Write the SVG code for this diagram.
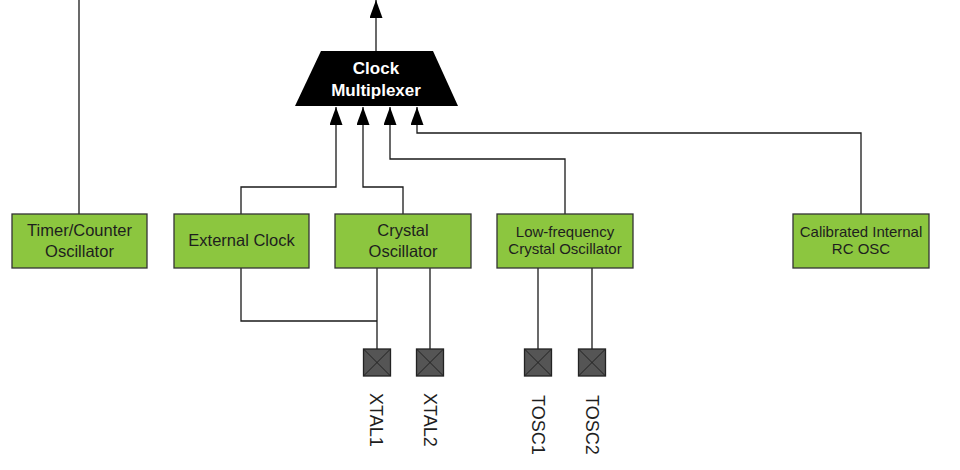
<svg xmlns="http://www.w3.org/2000/svg" width="960" height="470" viewBox="0 0 960 470">
<defs>
<style>
.box{fill:#8cc63f;stroke:#333;stroke-width:1.3}
.t{font-family:"Liberation Sans",Arial,sans-serif;fill:#1e1e1e;text-anchor:middle}
.big{font-size:16.5px}
.small{font-size:15px}
.wire{fill:none;stroke:#1a1a1a;stroke-width:1.3}
.pad{fill:#555;stroke:#222;stroke-width:1.3}
.padx{stroke:#222;stroke-width:1}
.pin{font-family:"Liberation Sans",Arial,sans-serif;font-size:18px;fill:#1e1e1e}
</style>
<marker id="ah" markerUnits="userSpaceOnUse" markerWidth="18" markerHeight="14" refX="18" refY="6.5" orient="auto">
<path d="M0,0 L18,6.5 L0,13 z" fill="#000"/>
</marker>
</defs>
<rect width="960" height="470" fill="#fff"/>

<g id="connectors">
<path class="wire" d="M376,51 L376,0" marker-end="url(#ah)"/>
<path class="wire" d="M79,214 L79,0"/>
<path class="wire" d="M861,214 L861,133 L417,133 L417,107" marker-end="url(#ah)"/>
<path class="wire" d="M565,214 L565,159 L390,159 L390,107" marker-end="url(#ah)"/>
<path class="wire" d="M403,214 L403,187 L363,187 L363,107" marker-end="url(#ah)"/>
<path class="wire" d="M241,214 L241,187 L336,187 L336,107" marker-end="url(#ah)"/>
<path class="wire" d="M241,268 L241,321 L377,321"/>
<path class="wire" d="M377,268 L377,349"/>
<path class="wire" d="M430,268 L430,349"/>
<path class="wire" d="M538,268 L538,349"/>
<path class="wire" d="M592,268 L592,349"/>
</g>

<g id="clock-multiplexer">
<path d="M321,51 L433,51 L458,106 L295,106 Z" fill="#000"/>
<text class="t" x="376" y="74" style="font-size:17px;font-weight:bold;fill:#fff">Clock</text>
<text class="t" x="376" y="96" style="font-size:17px;font-weight:bold;fill:#fff">Multiplexer</text>
</g>

<g id="timer-counter-oscillator">
<rect class="box" x="12" y="214" width="135" height="54"/>
<text class="t big" x="79.5" y="236">Timer/Counter</text>
<text class="t big" x="79.5" y="257">Oscillator</text>
</g>

<g id="external-clock">
<rect class="box" x="174" y="214" width="135" height="54"/>
<text class="t big" x="241.5" y="246">External Clock</text>
</g>

<g id="crystal-oscillator">
<rect class="box" x="335" y="214" width="136" height="54"/>
<text class="t big" x="403" y="236">Crystal</text>
<text class="t big" x="403" y="257">Oscillator</text>
</g>

<g id="low-frequency-crystal-oscillator">
<rect class="box" x="497" y="214" width="136" height="54"/>
<text class="t small" x="565" y="237">Low-frequency</text>
<text class="t small" x="565" y="254">Crystal Oscillator</text>
</g>

<g id="calibrated-internal-rc-osc">
<rect class="box" x="793" y="214" width="136" height="54"/>
<text class="t small" x="861" y="237">Calibrated Internal</text>
<text class="t small" x="861" y="254">RC OSC</text>
</g>

<g id="pad-xtal1">
<rect class="pad" x="363.5" y="349" width="27" height="27"/>
<path class="padx" d="M363.5,349 L390.5,376 M390.5,349 L363.5,376"/>
<text class="pin" transform="translate(370,393) rotate(90)">XTAL1</text>
</g>
<g id="pad-xtal2">
<rect class="pad" x="416.5" y="349" width="27" height="27"/>
<path class="padx" d="M416.5,349 L443.5,376 M443.5,349 L416.5,376"/>
<text class="pin" transform="translate(423.5,393) rotate(90)">XTAL2</text>
</g>
<g id="pad-tosc1">
<rect class="pad" x="524.5" y="349" width="27" height="27"/>
<path class="padx" d="M524.5,349 L551.5,376 M551.5,349 L524.5,376"/>
<text class="pin" transform="translate(531.5,395) rotate(90)">TOSC1</text>
</g>
<g id="pad-tosc2">
<rect class="pad" x="578.5" y="349" width="27" height="27"/>
<path class="padx" d="M578.5,349 L605.5,376 M605.5,349 L578.5,376"/>
<text class="pin" transform="translate(585.5,395) rotate(90)">TOSC2</text>
</g>
</svg>
